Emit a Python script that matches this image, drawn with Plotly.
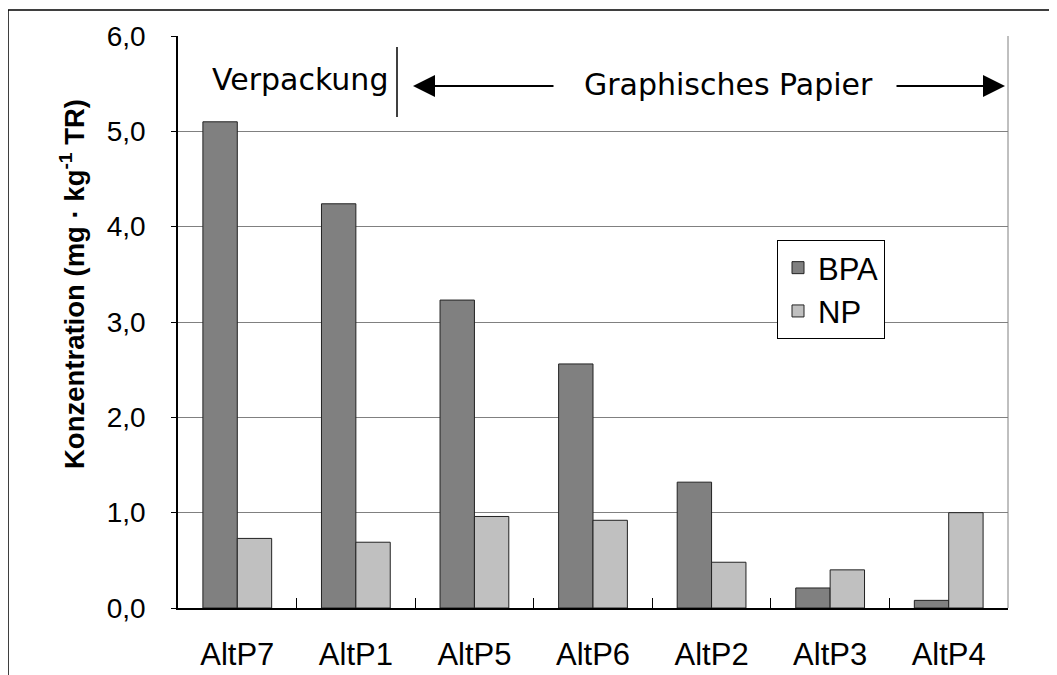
import plotly.graph_objects as go

categories = ["AltP7", "AltP1", "AltP5", "AltP6", "AltP2", "AltP3", "AltP4"]
bpa = [5.10, 4.24, 3.23, 2.56, 1.32, 0.21, 0.08]
np_vals = [0.73, 0.69, 0.96, 0.92, 0.48, 0.40, 1.00]
y_ticks = [0, 1, 2, 3, 4, 5, 6]

# window geometry (page body adds 8px offset)
OX, OY = 8, 8
WIN_W, WIN_H = 1057, 675
W, H = WIN_W - OX, WIN_H - OY
L, R, T, B = 178, 1008, 36, 608  # plot area in window pixels

def px(x):
    return (x - L) / (R - L)

def py(y):
    return (B - y) / (B - T)

fig = go.Figure()
fig.add_trace(go.Bar(x=categories, y=bpa, name="BPA",
                     marker=dict(color="#808080", line=dict(color="#222222", width=1))))
fig.add_trace(go.Bar(x=categories, y=np_vals, name="NP",
                     marker=dict(color="#c0c0c0", line=dict(color="#222222", width=1))))

fig.update_layout(
    width=W, height=H,
    margin=dict(l=L - OX, r=WIN_W - R, t=T - OY, b=WIN_H - B, autoexpand=False),
    plot_bgcolor="white", paper_bgcolor="white",
    barmode="group", bargap=0.42, bargroupgap=0,
    separators=",.",
    font=dict(family="Arial, Liberation Sans, sans-serif", color="black", size=28),
    legend=dict(x=px(777), y=py(240), xanchor="left", yanchor="top",
                bgcolor="white", bordercolor="black", borderwidth=1,
                font=dict(size=31)),
    xaxis=dict(showline=True, linecolor="black", linewidth=1.5,
               ticks="inside", tickson="boundaries", ticklen=10, tickcolor="black",
               tickfont=dict(size=31), showgrid=False, ticklabelstandoff=18),
    yaxis=dict(range=[0, 6], tickvals=y_ticks, tickformat=".1f",
               showline=True, linecolor="black", linewidth=1.5,
               ticks="outside", ticklen=5, tickcolor="black",
               showgrid=True, gridcolor="#808080", gridwidth=1,
               tickfont=dict(size=28), zeroline=False, ticklabelstandoff=20),
)

shapes = [
    # outer frame
    dict(type="rect", xref="paper", yref="paper", x0=px(8), x1=px(1080), y0=py(10), y1=py(700),
         line=dict(color="black", width=1.5), layer="below"),
    # right plot border
    dict(type="line", xref="paper", yref="paper", x0=1, x1=1, y0=0, y1=1,
         line=dict(color="#808080", width=1)),
    # separator line
    dict(type="line", xref="paper", yref="paper", x0=px(397), x1=px(397), y0=py(47), y1=py(117),
         line=dict(color="black", width=1.5)),
]
fig.update_layout(shapes=shapes)

# y-axis title as rotated annotation
fig.add_annotation(x=px(72), y=py(284), xref="paper", yref="paper",
                   xanchor="center", yanchor="middle",
                   text="<b>Konzentration (mg · kg<sup>-1</sup> TR)</b>",
                   textangle=-90, showarrow=False, font=dict(size=27.5))

ann_font = dict(family="DejaVu Sans, sans-serif", size=30, color="black")
fig.add_annotation(x=px(300), y=py(80), xref="paper", yref="paper", text="Verpackung",
                   xanchor="center", yanchor="middle", showarrow=False, font=ann_font)
fig.add_annotation(x=px(728), y=py(84), xref="paper", yref="paper", text="Graphisches Papier",
                   xanchor="center", yanchor="middle", showarrow=False, font=ann_font)
fig.add_annotation(x=px(413), y=py(86), xref="paper", yref="paper", text="",
                   showarrow=True, ax=555 - 413, ay=0, arrowhead=2, arrowsize=2.2,
                   arrowwidth=2, arrowcolor="black")
fig.add_annotation(x=px(1005), y=py(86), xref="paper", yref="paper", text="",
                   showarrow=True, ax=895 - 1005, ay=0, arrowhead=2, arrowsize=2.2,
                   arrowwidth=2, arrowcolor="black")

fig.write_html("out.html")
